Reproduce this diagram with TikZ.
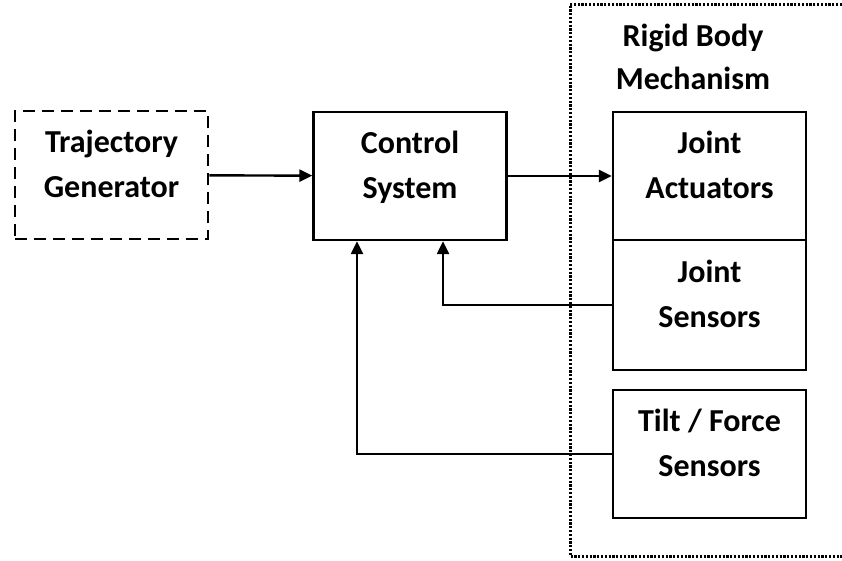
\documentclass[tikz,border=0pt]{standalone}
\usepackage{fontspec}
\setmainfont{Carlito}
\usetikzlibrary{positioning,arrows.meta}

\begin{document}
\begin{tikzpicture}[x=1pt,y=-1pt,
    block/.style={draw,line width=2.4pt,minimum width=193pt,minimum height=128pt,
                  align=center,font=\fontsize{32}{45}\selectfont\bfseries,text depth=22pt},
    tag/.style={align=center,font=\fontsize{32}{43}\selectfont\bfseries}]
    \useasboundingbox (0,0) rectangle (842,560);

    \node[block,dashed,dash pattern=on 12pt off 7pt,line width=2.8pt] (traj) at (111.5,175) {Trajectory\\Generator};
    \node[block] (ctrl) at (410,176) {Control\\System};
    \node[block] (act) at (709.5,176) {Joint\\Actuators};
    \node[block,minimum height=130pt] (sens) [below=-2.4pt of act] {Joint\\Sensors};
    \node[block] (tilt) at (709.5,454) {Tilt / Force\\Sensors};
    \node[tag] (rigid) at (693,57) {Rigid Body\\Mechanism};

    \draw[line width=3pt,dash pattern=on 2.2pt off 1.6pt] (842,4) -- (570,4) -- (570,556) -- (842,556);

    \path[line width=2.4pt,-{Triangle[length=13pt,width=12pt]}] (traj) edge (ctrl)
                                                                (ctrl) edge (act);
    \draw[line width=2.4pt,-{Triangle[length=13pt,width=12pt]}] (sens.west) -| ([xshift=33pt]ctrl.south);
    \draw[line width=2.4pt,-{Triangle[length=13pt,width=12pt]}] (tilt.west) -| ([xshift=-53pt]ctrl.south);
\end{tikzpicture}
\end{document}
